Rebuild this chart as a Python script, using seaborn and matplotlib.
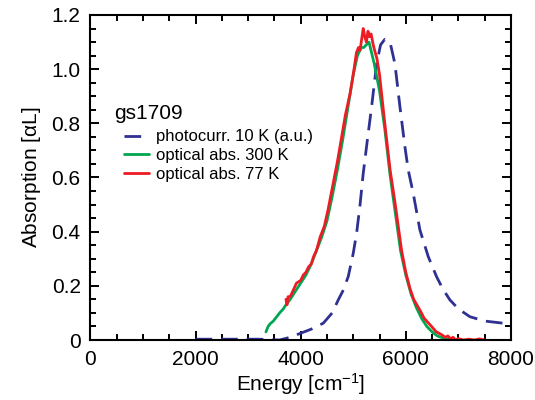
import numpy as np
import pandas as pd
import seaborn as sns
import matplotlib
matplotlib.use('Agg')
import matplotlib.pyplot as plt
from matplotlib.ticker import MultipleLocator

# photocurrent at 10 K (a.u.)
pc_x = [2000, 2400, 2800, 3200, 3600, 3800, 4000, 4200, 4430, 4600, 4715, 4800, 4905,
        5000, 5064, 5130, 5190, 5270, 5350, 5445, 5520, 5600, 5700, 5793, 5888, 5983,
        6046, 6141, 6269, 6427, 6585, 6700, 6839, 7000, 7219, 7500, 7853, 8000]
pc_y = [0.003, 0.003, 0.003, 0.003, 0.0, 0.01, 0.025, 0.04, 0.062, 0.10, 0.148, 0.18, 0.234,
        0.32, 0.394, 0.50, 0.615, 0.74, 0.862, 1.02, 1.09, 1.11, 1.10, 1.02, 0.862, 0.714,
        0.628, 0.542, 0.406, 0.308, 0.234, 0.19, 0.148, 0.115, 0.086, 0.07, 0.062, 0.06]

# optical absorption 300 K
g_x = [3340, 3380, 3420, 3480, 3540, 3600, 3670, 3720, 3800, 3900, 4000, 4100, 4200, 4300,
       4400, 4500, 4600, 4700, 4800, 4900, 5000, 5080, 5150, 5200, 5250, 5300, 5350, 5400,
       5450, 5500, 5600, 5700, 5800, 5900, 6000, 6100, 6200, 6300, 6400, 6500, 6600, 6700,
       6800, 6900]
g_y = [0.03, 0.05, 0.06, 0.07, 0.085, 0.10, 0.115, 0.13, 0.15, 0.18, 0.21, 0.24, 0.28, 0.33,
       0.38, 0.44, 0.53, 0.63, 0.74, 0.86, 0.98, 1.05, 1.08, 1.08, 1.09, 1.10, 1.06, 1.02,
       0.97, 0.92, 0.78, 0.61, 0.47, 0.33, 0.24, 0.17, 0.12, 0.08, 0.05, 0.03, 0.015, 0.008,
       0.003, 0.0]

# optical absorption 77 K
r_x = [3720, 3740, 3760, 3800, 3850, 3920, 4000, 4050, 4100, 4150, 4200, 4250, 4300, 4370,
       4450, 4520, 4600, 4650, 4700, 4780, 4850, 4940, 5000, 5060, 5100, 5130, 5160, 5190,
       5220, 5250, 5280, 5310, 5340, 5380, 5420, 5450, 5500, 5550, 5600, 5700, 5800, 5920,
       6000, 6080, 6150, 6270, 6350, 6490, 6580, 6680, 6750, 6800, 6850, 6900, 6950, 7000,
       7100, 7200, 7300, 7400, 7500]
r_y = [0.15, 0.13, 0.16, 0.16, 0.18, 0.21, 0.22, 0.24, 0.25, 0.27, 0.28, 0.31, 0.33, 0.38,
       0.42, 0.48, 0.56, 0.61, 0.66, 0.75, 0.83, 0.91, 0.98, 1.06, 1.08, 1.07, 1.11, 1.15,
       1.12, 1.10, 1.14, 1.12, 1.13, 1.09, 1.06, 1.04, 0.98, 0.89, 0.80, 0.63, 0.50, 0.33,
       0.25, 0.19, 0.15, 0.11, 0.08, 0.05, 0.03, 0.02, 0.01, 0.015, 0.005, 0.01, 0.0, 0.005,
       0.0, 0.003, 0.0, 0.004, 0.0]

labels = ['photocurr. 10 K (a.u.)', 'optical abs. 300 K', 'optical abs. 77 K']
colors = ['#2e3192', '#00a651', '#ed1c24']

sns.set_style('ticks')
plt.rcParams['font.family'] = ['Liberation Sans', 'DejaVu Sans']
plt.rcParams['mathtext.default'] = 'regular'
plt.rcParams['text.color'] = 'black'
plt.rcParams['axes.labelcolor'] = 'black'
plt.rcParams['xtick.color'] = 'black'
plt.rcParams['ytick.color'] = 'black'

fig = plt.figure(figsize=(5.35, 4), dpi=100)
ax = fig.add_axes([0.169, 0.15, 0.786, 0.8125])

sns.lineplot(x=pc_x, y=pc_y, ax=ax, color=colors[0], lw=2.0, label=labels[0],
             estimator=None, sort=False)
ax.lines[-1].set_dashes([6, 3.2])
sns.lineplot(x=g_x, y=g_y, ax=ax, color=colors[1], lw=2.0, label=labels[1],
             estimator=None, sort=False)
sns.lineplot(x=r_x, y=r_y, ax=ax, color=colors[2], lw=2.0, label=labels[2],
             estimator=None, sort=False)

ax.set_xlim(0, 8000)
ax.set_ylim(0, 1.2)
ax.xaxis.set_major_locator(MultipleLocator(2000))
ax.xaxis.set_minor_locator(MultipleLocator(500))
ax.yaxis.set_minor_locator(MultipleLocator(0.05))
ax.set_yticks([0, 0.2, 0.4, 0.6, 0.8, 1.0, 1.2], ['0', '0.2', '0.4', '0.6', '0.8', '1.0', '1.2'])
ax.tick_params(which='both', direction='in', top=True, right=True, width=1.4,
               labelsize=15, color='black', labelcolor='black')
ax.tick_params(which='major', length=6.5, pad=7)
ax.tick_params(which='minor', length=4)
for s in ax.spines.values():
    s.set_linewidth(1.5)
    s.set_color('black')

ax.set_xlabel(r'Energy [cm$^{-1}$]', fontsize=15, labelpad=2)
ax.set_ylabel(r'Absorption [$\alpha$L]', fontsize=15, labelpad=6)

ax.text(0.056, 0.698, 'gs1709', transform=ax.transAxes, fontsize=15, va='center', ha='left')
leg = ax.legend(loc='upper left', bbox_to_anchor=(0.08, 0.648), frameon=False, fontsize=12,
                handlelength=1.5, handletextpad=0.4, labelspacing=0.22, borderpad=0,
                borderaxespad=0)
leg.get_lines()[0].set_dashes([6, 3.2])

plt.savefig('out.png', dpi=100)
